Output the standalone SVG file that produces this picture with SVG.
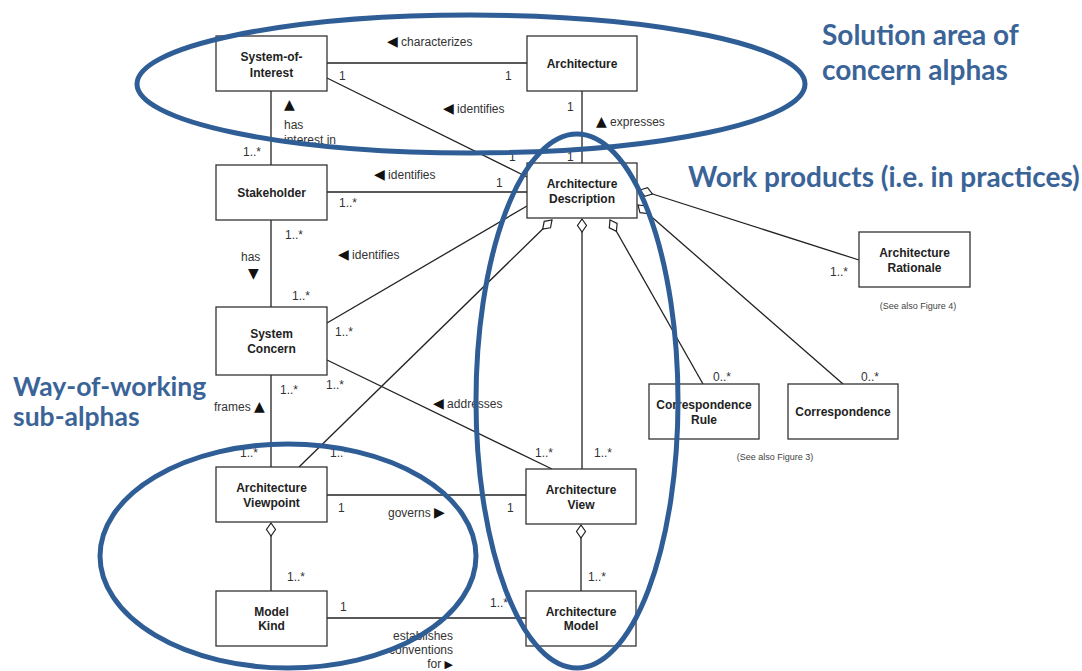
<svg xmlns="http://www.w3.org/2000/svg" width="1082" height="671" viewBox="0 0 1082 671">
<style>
.box{fill:#fff;stroke:#333;stroke-width:1.3}
.bt{font-family:"Liberation Sans",Arial,sans-serif;font-size:12px;font-weight:bold;fill:#222;text-anchor:middle}
.lb{font-family:"Liberation Sans","DejaVu Sans",sans-serif;font-size:12px;fill:#333}
.tri{font-family:"DejaVu Sans",sans-serif;font-size:14px;fill:#111}
.tri2{font-family:"DejaVu Sans",sans-serif;font-size:11px;fill:#111}
.note{font-family:"Liberation Sans",sans-serif;font-size:9px;fill:#444;text-anchor:middle}
.ln{stroke:#222;stroke-width:1.3;fill:none}
.agg{marker-start:url(#dia)}
.ell{fill:none;stroke:#2F5D95;stroke-width:5}
.big{font-family:Lato,"Open Sans",sans-serif;font-weight:bold;font-size:28px;fill:#3A6498}
.big2{font-family:Lato,"Open Sans",sans-serif;font-weight:bold;font-size:26.5px;fill:#3A6498}
</style>
<defs>
<marker id="dia" markerUnits="userSpaceOnUse" markerWidth="14" markerHeight="12" refX="0" refY="5" orient="auto" viewBox="0 0 14 10" overflow="visible">
<path d="M0,5 L6.5,0.5 L13,5 L6.5,9.5 Z" fill="#fff" stroke="#222" stroke-width="1.2"/>
</marker>
</defs>

<g id="connectors">
<line class="ln" x1="327" y1="63" x2="527" y2="63"/>
<line class="ln" x1="327" y1="78" x2="527" y2="177"/>
<line class="ln" x1="582" y1="91" x2="582" y2="163"/>
<line class="ln" x1="271" y1="91" x2="271" y2="165"/>
<line class="ln" x1="327" y1="192" x2="527" y2="192"/>
<line class="ln" x1="271" y1="220" x2="271" y2="307"/>
<line class="ln" x1="327" y1="323" x2="527" y2="206"/>
<line class="ln" x1="327" y1="360" x2="552" y2="469"/>
<line class="ln" x1="271" y1="375" x2="271" y2="467"/>
<line class="ln agg" x1="552" y1="220" x2="299" y2="467"/>
<line class="ln agg" x1="582" y1="219" x2="582" y2="469"/>
<line class="ln agg" x1="610" y1="220" x2="703" y2="384"/>
<line class="ln agg" x1="638" y1="205" x2="843" y2="384"/>
<line class="ln agg" x1="640" y1="190" x2="859" y2="260"/>
<line class="ln" x1="327" y1="495" x2="526" y2="495"/>
<line class="ln agg" x1="271" y1="523" x2="271" y2="591"/>
<line class="ln agg" x1="581" y1="525" x2="581" y2="591"/>
<line class="ln" x1="327" y1="618" x2="526" y2="618"/>

<text class="lb" x="387" y="46"><tspan class="tri">◀</tspan> characterizes</text>
<text class="lb" x="339" y="80">1</text>
<text class="lb" x="505" y="80">1</text>
<text class="lb" x="443" y="113"><tspan class="tri">◀</tspan> identifies</text>
<text class="lb" x="567" y="111">1</text>
<text class="lb" x="509" y="161">1</text>
<text class="lb" x="567" y="161">1</text>
<text class="lb" x="596" y="126"><tspan class="tri">▲</tspan> expresses</text>
<text class="lb" x="284" y="109"><tspan class="tri">▲</tspan></text>
<text class="lb" x="284" y="129">has</text>
<text class="lb" x="284" y="144">interest in</text>
<text class="lb" x="243" y="156">1..*</text>
<text class="lb" x="374" y="179"><tspan class="tri">◀</tspan> identifies</text>
<text class="lb" x="496" y="187">1</text>
<text class="lb" x="339" y="207">1..*</text>
<text class="lb" x="285" y="239">1..*</text>
<text class="lb" x="241" y="261">has</text>
<text class="lb" x="248" y="278"><tspan class="tri">▼</tspan></text>
<text class="lb" x="292" y="300">1..*</text>
<text class="lb" x="338" y="259"><tspan class="tri">◀</tspan> identifies</text>
<text class="lb" x="335" y="336">1..*</text>
<text class="lb" x="280" y="394">1..*</text>
<text class="lb" x="326" y="389">1..*</text>
<text class="lb" x="214" y="411">frames <tspan class="tri">▲</tspan></text>
<text class="lb" x="433" y="408"><tspan class="tri">◀</tspan> addresses</text>
<text class="lb" x="535" y="457">1..*</text>
<text class="lb" x="594" y="457">1..*</text>
<text class="lb" x="240" y="457">1..*</text>
<text class="lb" x="330" y="457">1..*</text>
<text class="lb" x="338" y="512">1</text>
<text class="lb" x="507" y="512">1</text>
<text class="lb" x="388" y="517">governs <tspan class="tri">▶</tspan></text>
<text class="lb" x="287" y="581">1..*</text>
<text class="lb" x="588" y="581">1..*</text>
<text class="lb" x="340" y="611">1</text>
<text class="lb" x="490" y="607">1..*</text>
<text class="lb" x="453" y="640" text-anchor="end">establishes</text>
<text class="lb" x="453" y="654" text-anchor="end">conventions</text>
<text class="lb" x="453" y="668" text-anchor="end">for <tspan class="tri2">▶</tspan></text>
<text class="lb" x="830" y="276">1..*</text>
<text class="lb" x="713" y="381">0..*</text>
<text class="lb" x="861" y="381">0..*</text>
</g>

<g id="system-of-interest"><rect class="box" x="216" y="36" width="111" height="55"/><text class="bt" x="271.5" y="61">System-of-</text><text class="bt" x="271.5" y="77">Interest</text></g>
<g id="architecture"><rect class="box" x="527" y="36" width="110" height="55"/><text class="bt" x="582" y="68">Architecture</text></g>
<g id="stakeholder"><rect class="box" x="216" y="165" width="111" height="55"/><text class="bt" x="271.5" y="197">Stakeholder</text></g>
<g id="architecture-description"><rect class="box" x="527" y="163" width="110" height="55"/><text class="bt" x="582" y="188">Architecture</text><text class="bt" x="582" y="203">Description</text></g>
<g id="system-concern"><rect class="box" x="216" y="307" width="111" height="68"/><text class="bt" x="271.5" y="338">System</text><text class="bt" x="271.5" y="353">Concern</text></g>
<g id="architecture-rationale"><rect class="box" x="859" y="232" width="111" height="55"/><text class="bt" x="914.5" y="257">Architecture</text><text class="bt" x="914.5" y="272">Rationale</text><text class="note" x="918" y="309">(See also Figure 4)</text></g>
<g id="correspondence-rule"><rect class="box" x="649" y="384" width="110" height="55"/><text class="bt" x="704" y="409">Correspondence</text><text class="bt" x="704" y="424">Rule</text></g>
<g id="correspondence"><rect class="box" x="788" y="384" width="110" height="55"/><text class="bt" x="843" y="416">Correspondence</text><text class="note" x="775" y="460">(See also Figure 3)</text></g>
<g id="architecture-viewpoint"><rect class="box" x="216" y="467" width="111" height="55"/><text class="bt" x="271.5" y="492">Architecture</text><text class="bt" x="271.5" y="507">Viewpoint</text></g>
<g id="architecture-view"><rect class="box" x="526" y="469" width="110" height="55"/><text class="bt" x="581" y="494">Architecture</text><text class="bt" x="581" y="509">View</text></g>
<g id="model-kind"><rect class="box" x="216" y="591" width="111" height="55"/><text class="bt" x="271.5" y="616">Model</text><text class="bt" x="271.5" y="630">Kind</text></g>
<g id="architecture-model"><rect class="box" x="526" y="591" width="110" height="55"/><text class="bt" x="581" y="616">Architecture</text><text class="bt" x="581" y="630">Model</text></g>

<g id="overlays">
<ellipse class="ell" cx="471" cy="84" rx="334" ry="69"/>
<ellipse class="ell" cx="577" cy="401" rx="101" ry="267"/>
<ellipse class="ell" cx="288" cy="556" rx="188" ry="112"/>
<text class="big" x="822" y="45">Solution area of</text>
<text class="big" x="822" y="80">concern alphas</text>
<text class="big" x="688" y="187">Work products (i.e. in practices)</text>
<text class="big2" x="13" y="396">Way-of-working</text>
<text class="big2" x="13" y="426">sub-alphas</text>
</g>
</svg>
